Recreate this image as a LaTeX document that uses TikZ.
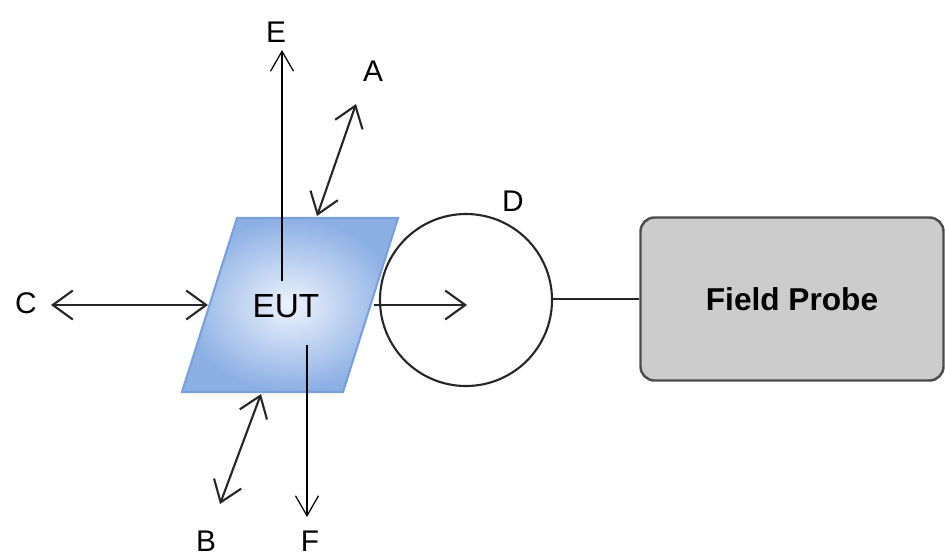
\documentclass[tikz,border=0pt]{standalone}
\usepackage{fontspec}
\setmainfont{Liberation Sans}
\usetikzlibrary{arrows.meta,positioning,calc}
\definecolor{eutedge}{RGB}{120,160,220}
\definecolor{eutfill}{RGB}{140,175,228}
\definecolor{eutcore}{RGB}{238,243,252}

\begin{document}
\begin{tikzpicture}[x=0.02cm,y=-0.02cm,
  barb/.tip={Straight Barb[length=4mm,width=5.8mm]},
  thin barb/.tip={Straight Barb[length=4mm,width=4.6mm]},
  lbl/.style={font=\fontsize{17}{17}\selectfont,inner sep=0},
  dbl/.style={draw=black!85,line width=1.2pt,barb-barb},
  single/.style={draw=black,line width=0.7pt,-thin barb},
  probe/.style={draw=black!70,line width=1.4pt,fill=black!20,rounded corners=8pt,minimum width=303*0.02cm,minimum height=163*0.02cm,font=\bfseries\fontsize{18}{18}\selectfont},
]
  \useasboundingbox (0,0) rectangle (945,558);

  % equipment under test
  \coordinate (p1) at (237,218);
  \coordinate (p2) at (398,218);
  \coordinate (p3) at (343,392);
  \coordinate (p4) at (182,392);
  \shade[inner color=eutcore,outer color=eutfill]
    (p1) -- (p2) -- (p3) -- (p4) -- cycle;
  \draw[eutedge,line width=1.2pt] (p1) -- (p2) -- (p3) -- (p4) -- cycle;
  \node[font=\fontsize{19}{19}\selectfont,inner sep=0] (eut) at (286,306) {EUT};

  % loop antenna and probe
  \draw[black!85,line width=1.2pt] (466,300) circle (86);
  \coordinate (loopc) at (467,305);
  \coordinate (loopr) at (552,299);
  \node[probe] (fp) at (792,299) {Field Probe};

  % end points
  \coordinate (ein) at (282,281);
  \coordinate (eout) at (282,50);
  \coordinate (fin) at (307,345);
  \coordinate (fout) at (307,517);
  \coordinate (a1) at (317,216);
  \coordinate (a2) at (356,104);
  \coordinate (b1) at (261,394);
  \coordinate (b2) at (220,504);
  \coordinate (c1) at (51,305);
  \coordinate (c2) at (208,305);
  \coordinate (dstart) at (374,305);

  \node[lbl] (E) at (276,32) {E};
  \node[lbl] (A) at (373,71) {A};
  \node[lbl] (D) at (513,201) {D};
  \node[lbl] (C) at (26,303) {C};
  \node[lbl] (B) at (206,541) {B};
  \node[lbl] (F) at (310,541) {F};

  \draw[single] (ein) -- (eout);
  \draw[single] (fin) -- (fout);
  \draw[dbl] (a1) -- (a2);
  \draw[dbl] (b1) -- (b2);
  \draw[dbl] (c1) -- (c2);
  \draw[dbl,-barb] (dstart) -- (loopc);
  \draw[black!85,line width=1.2pt] (loopr) -- (fp.west);
\end{tikzpicture}
\end{document}
